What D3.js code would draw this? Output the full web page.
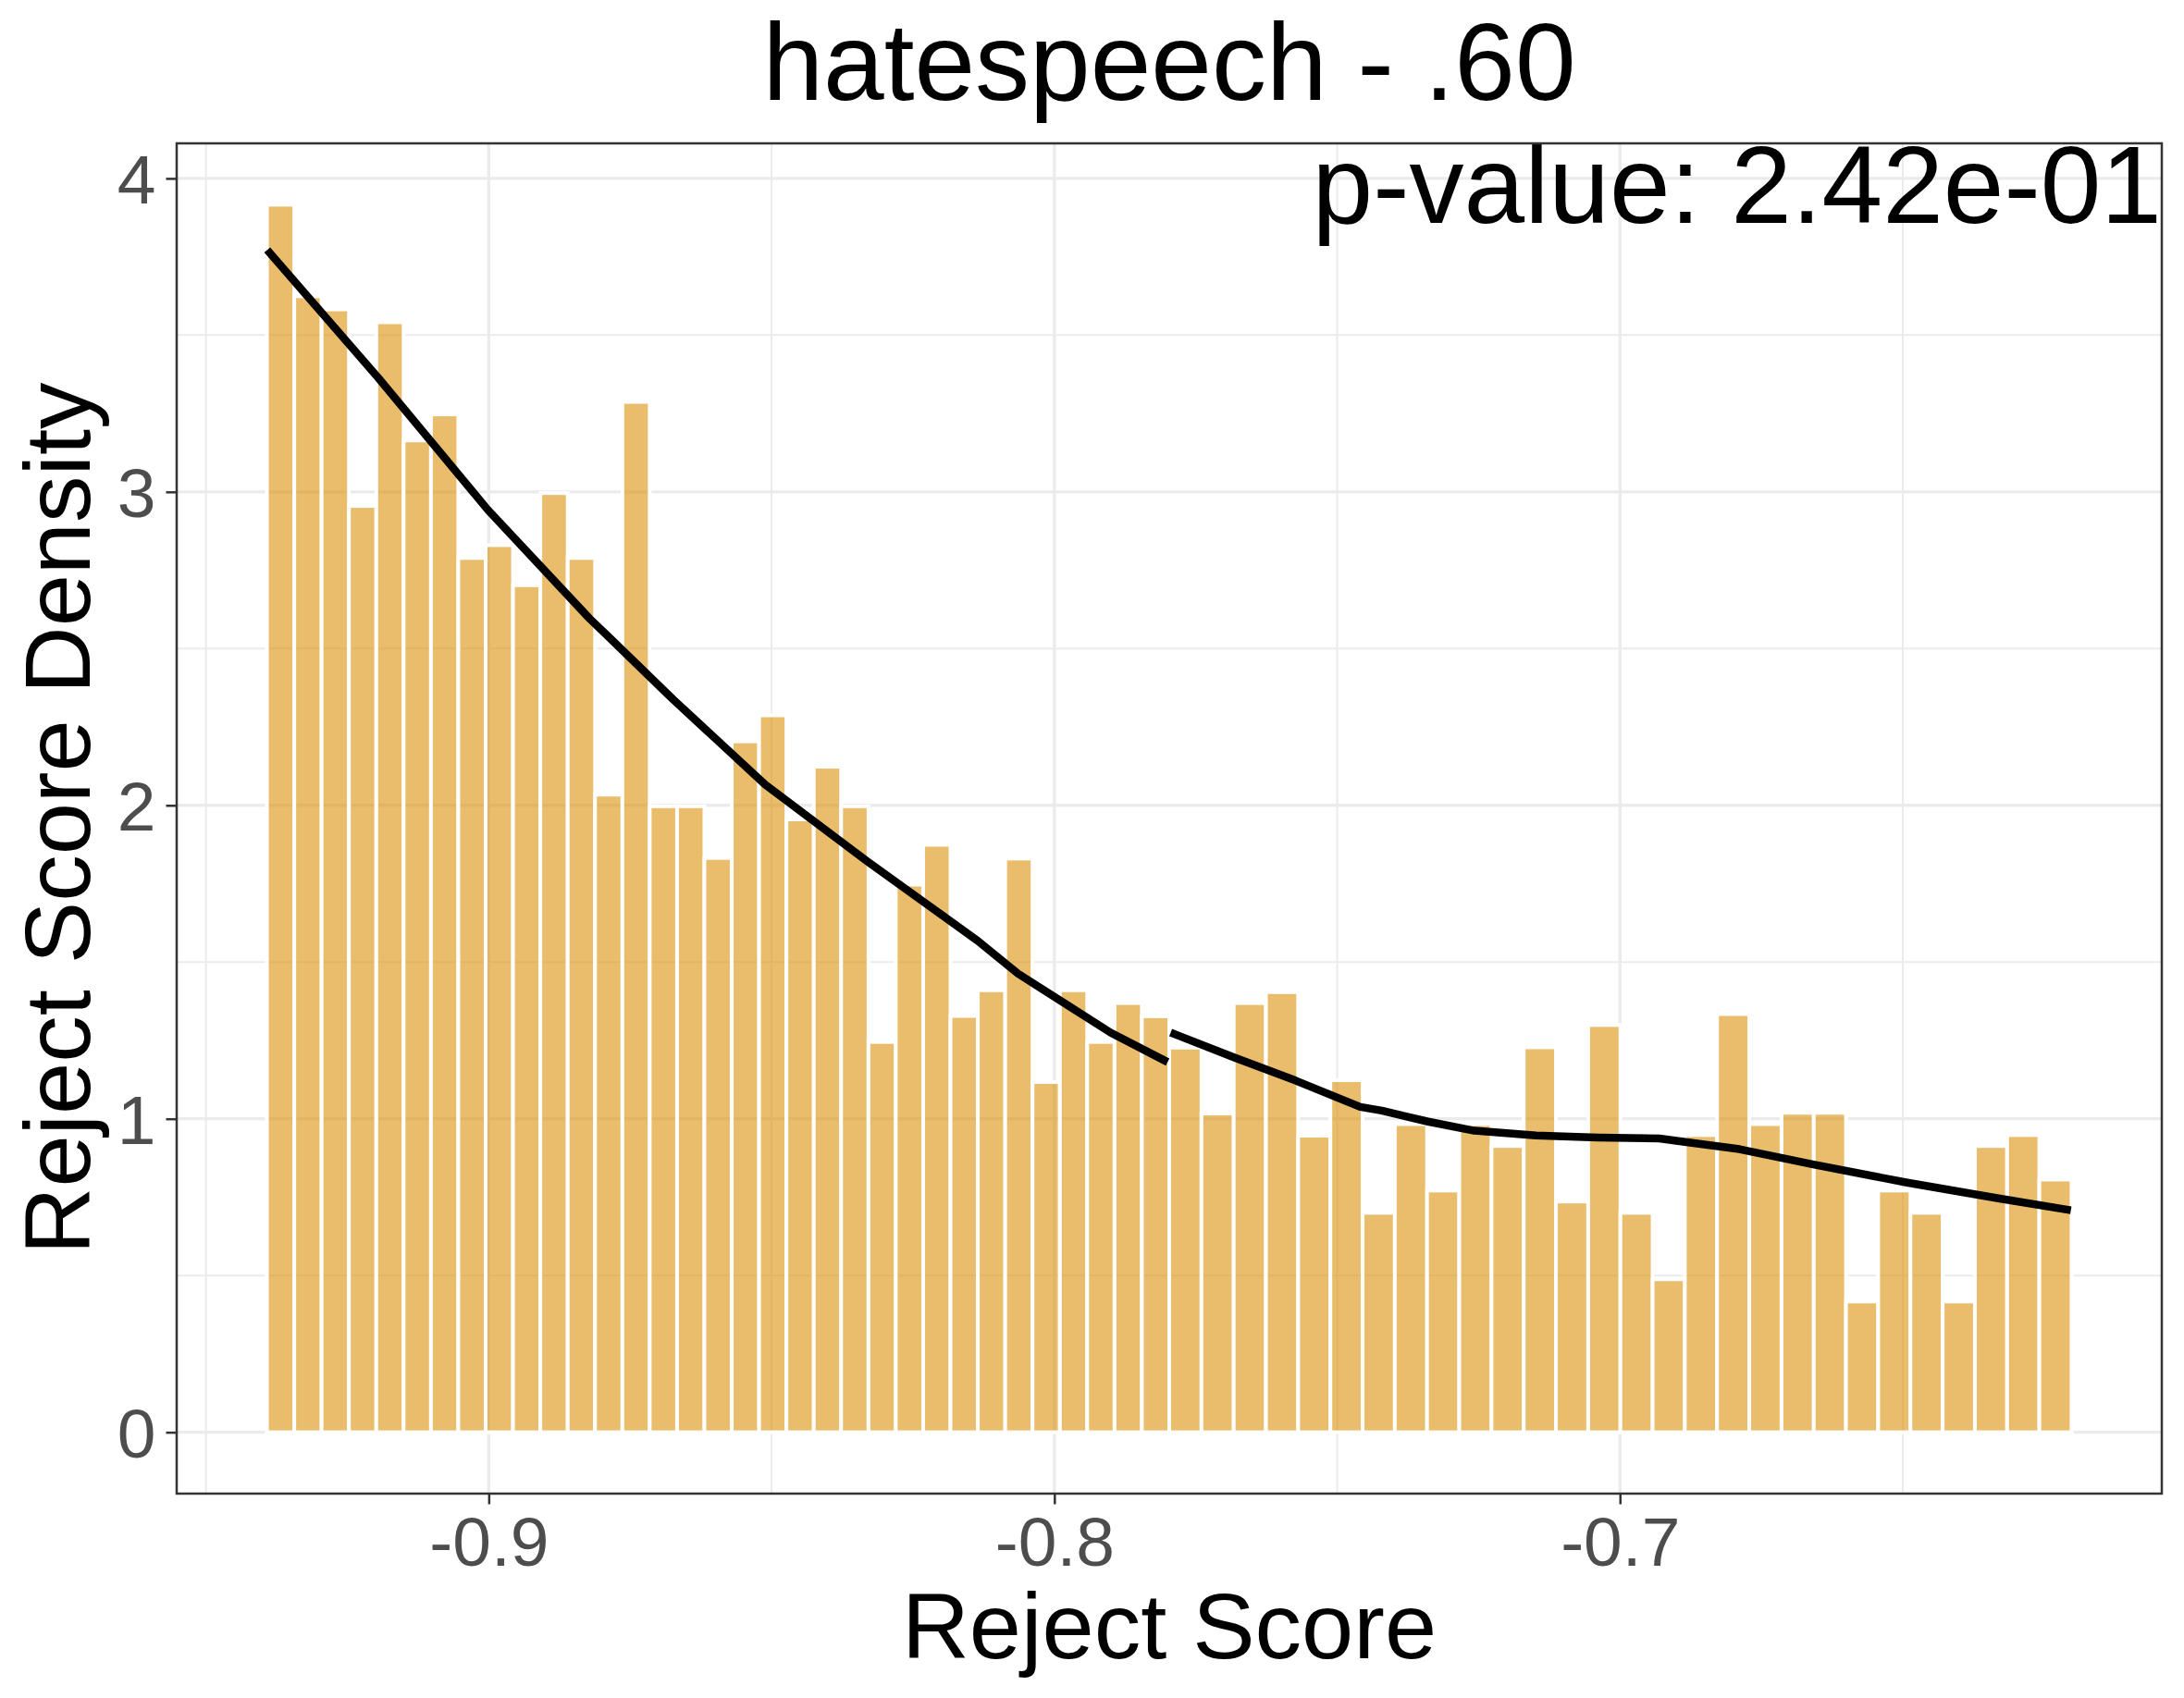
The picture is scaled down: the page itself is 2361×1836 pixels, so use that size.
<!DOCTYPE html>
<html><head><meta charset="utf-8">
<script src="https://cdn.jsdelivr.net/npm/d3@7"></script>
<style>
body{margin:0;background:#fff}
text{font-family:"Liberation Sans",Arial,Helvetica,sans-serif}
</style>
</head><body>
<svg id="chart" width="2361" height="1836"></svg>
<script>
// ---------- data ----------
const titleText = "hatespeech - .60";
const pValueText = "p-value: 2.42e-01";
const xTitle = "Reject Score";
const yTitle = "Reject Score Density";

// histogram group 1 (lower scores) : range and densities
const leftRange = [-0.93922, -0.77969];
const leftDensity = [3.916, 3.624, 3.582, 2.955, 3.541, 3.164, 3.247, 2.789, 2.830, 2.702,
  2.996, 2.789, 2.034, 3.287, 1.997, 1.997, 1.832, 2.204, 2.287, 1.955,
  2.123, 1.997, 1.245, 1.747, 1.874, 1.328, 1.410, 1.830, 1.117, 1.410,
  1.245, 1.369, 1.327];
// histogram group 2 (higher scores)
const rightRange = [-0.77969, -0.62016];
const rightDensity = [1.227, 1.017, 1.369, 1.404, 0.946, 1.123, 0.700, 0.983, 0.771, 0.983,
  0.913, 1.228, 0.736, 1.299, 0.700, 0.488, 0.948, 1.334, 0.983, 1.019,
  1.019, 0.417, 0.771, 0.700, 0.417, 0.913, 0.948, 0.806];

// smooth curves
const curve1X = [-0.93917, -0.91954, -0.90018, -0.88219, -0.87838, -0.86747, -0.85112, -0.83313, -0.81351, -0.80643, -0.79825, -0.79007, -0.77998];
const curve1Y = [3.772, 3.364, 2.943, 2.596, 2.530, 2.339, 2.066, 1.822, 1.567, 1.463, 1.369, 1.275, 1.181];
const curve2X = [-0.77944, -0.76827, -0.75737, -0.74592, -0.74211, -0.73393, -0.72576, -0.71485, -0.70394, -0.69305, -0.68759, -0.67887, -0.66579, -0.64944, -0.63309, -0.62028];
const curve2Y = [1.275, 1.196, 1.122, 1.038, 1.026, 0.991, 0.962, 0.947, 0.940, 0.937, 0.924, 0.903, 0.854, 0.797, 0.746, 0.708];

const xTicks = [-0.9, -0.8, -0.7];
const xMinor = [-0.95, -0.85, -0.75, -0.65];
const yTicks = [0, 1, 2, 3, 4];
const yMinor = [0.5, 1.5, 2.5, 3.5];

// ---------- layout ----------
const W = 2361, H = 1836;
const P = {left: 191, right: 2337, top: 155, bottom: 1615};
const svg = d3.select("#chart");
svg.append("rect").attr("width", W).attr("height", H).attr("fill", "#fff");

function toBins(range, dens) {
  const w = (range[1] - range[0]) / dens.length;
  return dens.map((d, i) => ({x0: range[0] + i * w, x1: range[0] + (i + 1) * w, y: d}));
}
const bins = toBins(leftRange, leftDensity).concat(toBins(rightRange, rightDensity));

const xMin = leftRange[0], xMax = rightRange[1];
const xSpan = xMax - xMin;
const x = d3.scaleLinear().domain([xMin - 0.05 * xSpan, xMax + 0.05 * xSpan]).range([P.left, P.right]);
const yMax = d3.max(bins, d => d.y);
const y = d3.scaleLinear().domain([-0.05 * yMax, yMax * 1.05]).range([P.bottom, P.top]);

const g = svg.append("g");
// minor grid
g.selectAll(".vminor").data(xMinor).join("line")
  .attr("x1", d => x(d)).attr("x2", d => x(d)).attr("y1", P.top).attr("y2", P.bottom)
  .attr("stroke", "#EBEBEB").attr("stroke-width", 2);
g.selectAll(".hminor").data(yMinor).join("line")
  .attr("y1", d => y(d)).attr("y2", d => y(d)).attr("x1", P.left).attr("x2", P.right)
  .attr("stroke", "#EBEBEB").attr("stroke-width", 2);
// major grid
g.selectAll(".vmajor").data(xTicks).join("line")
  .attr("x1", d => x(d)).attr("x2", d => x(d)).attr("y1", P.top).attr("y2", P.bottom)
  .attr("stroke", "#EBEBEB").attr("stroke-width", 3.3);
g.selectAll(".hmajor").data(yTicks).join("line")
  .attr("y1", d => y(d)).attr("y2", d => y(d)).attr("x1", P.left).attr("x2", P.right)
  .attr("stroke", "#EBEBEB").attr("stroke-width", 3.3);

// bars
g.selectAll(".bar").data(bins).join("rect")
  .attr("x", d => x(d.x0)).attr("width", d => x(d.x1) - x(d.x0))
  .attr("y", d => y(d.y)).attr("height", d => y(0) - y(d.y))
  .attr("fill", "rgb(218,145,8)").attr("fill-opacity", 0.6)
  .attr("stroke", "#fff").attr("stroke-width", 4);

// curves
const line = d3.line().x(d => x(d[0])).y(d => y(d[1]));
[[curve1X, curve1Y], [curve2X, curve2Y]].forEach(([cx, cy]) => {
  g.append("path").datum(cx.map((v, i) => [v, cy[i]]))
    .attr("d", line).attr("fill", "none").attr("stroke", "#000")
    .attr("stroke-width", 8.5).attr("stroke-linecap", "butt").attr("stroke-linejoin", "round");
});

// p-value annotation
svg.append("text").attr("x", P.right).attr("y", 241).attr("text-anchor", "end")
  .attr("font-size", 118).attr("fill", "#000").text(pValueText);

// panel border
svg.append("rect").attr("x", P.left).attr("y", P.top)
  .attr("width", P.right - P.left).attr("height", P.bottom - P.top)
  .attr("fill", "none").attr("stroke", "#333333").attr("stroke-width", 2.5);

// axes
const xAxis = svg.append("g").attr("transform", `translate(0,${P.bottom})`)
  .call(d3.axisBottom(x).tickValues(xTicks).tickFormat(d => d.toFixed(1)).tickSize(11.5).tickPadding(13));
xAxis.select(".domain").remove();
xAxis.selectAll("line").attr("stroke", "#333333").attr("stroke-width", 2.5);
xAxis.selectAll("text").attr("fill", "#4D4D4D").attr("font-size", 75)
  .attr("font-family", '"Liberation Sans",Arial,sans-serif');

const yAxis = svg.append("g").attr("transform", `translate(${P.left},0)`)
  .call(d3.axisLeft(y).tickValues(yTicks).tickFormat(d3.format("d")).tickSize(11.5).tickPadding(11));
yAxis.select(".domain").remove();
yAxis.selectAll("line").attr("stroke", "#333333").attr("stroke-width", 2.5);
yAxis.selectAll("text").attr("fill", "#4D4D4D").attr("font-size", 75).attr("dy", "0.36em")
  .attr("font-family", '"Liberation Sans",Arial,sans-serif');

// titles
const cx = (P.left + P.right) / 2;
svg.append("text").attr("x", cx).attr("y", 108).attr("text-anchor", "middle")
  .attr("font-size", 118).attr("fill", "#000").text(titleText);
svg.append("text").attr("x", cx).attr("y", 1793).attr("text-anchor", "middle")
  .attr("font-size", 101).attr("fill", "#000").text(xTitle);
svg.append("text").attr("transform", `translate(97,${(P.top + P.bottom) / 2}) rotate(-90)`)
  .attr("text-anchor", "middle").attr("font-size", 101).attr("fill", "#000").text(yTitle);
</script>
</body></html>
